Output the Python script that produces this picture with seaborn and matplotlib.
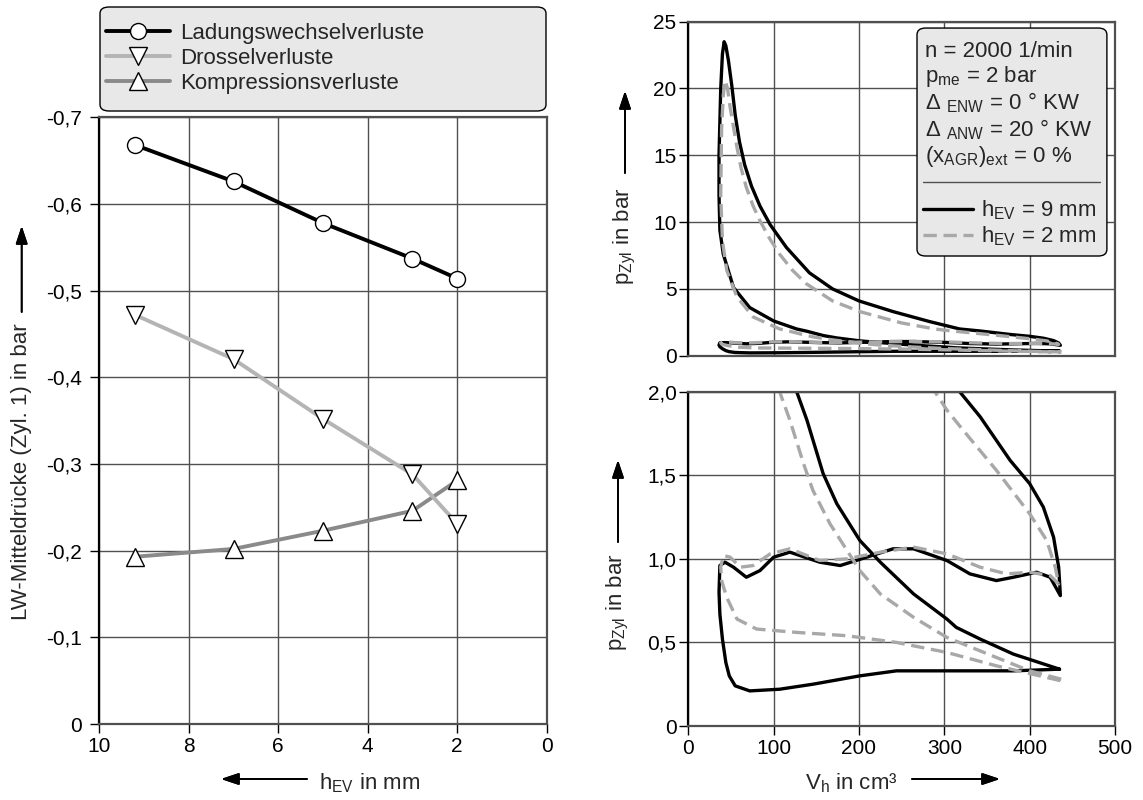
import seaborn as sns
import matplotlib.pyplot as plt
from matplotlib.patches import FancyBboxPatch
from matplotlib.lines import Line2D
from matplotlib.ticker import FuncFormatter, MultipleLocator

# Left chart: LW-Mitteldruecke over valve lift
HEV = [9.2, 7, 5, 3, 2]
LADUNG = [-0.668, -0.626, -0.578, -0.537, -0.514]
DROSSEL = [-0.472, -0.421, -0.352, -0.288, -0.231]
KOMPR = [-0.193, -0.202, -0.223, -0.246, -0.281]

# Right chart: p-V loops (compression, expansion, exhaust, intake)
V_9 = [435, 381, 342, 314, 303, 264, 225, 201, 174, 158, 139, 127, 100, 72, 53, 41, 37, 36, 36, 38, 40, 42,
       44, 47, 51, 55, 60, 66, 74, 84, 96, 115, 142, 169, 200, 240, 283, 318, 342, 377, 400, 416, 428, 434, 436,
       424, 408, 381, 361, 330, 303, 264, 240, 209, 178, 154, 119, 100, 84, 68, 53, 43, 37,
       36, 37, 40, 44, 48, 55, 72, 107, 146, 201, 244, 303, 381, 435]
P_9 = [0.34, 0.43, 0.52, 0.59, 0.64, 0.79, 0.98, 1.11, 1.33, 1.51, 1.83, 2.0, 2.6, 3.6, 5.1, 7.6, 9.4, 12.0, 15.0, 20.0, 22.6, 23.5,
       23.2, 22.1, 20.2, 18.0, 16.0, 14.3, 12.7, 11.2, 9.8, 8.1, 6.2, 5.0, 4.1, 3.3, 2.55, 2.0, 1.85, 1.59, 1.45, 1.31, 1.13, 0.95, 0.78,
       0.89, 0.92, 0.89, 0.87, 0.91, 0.99, 1.06, 1.06, 1.01, 0.96, 0.98, 1.04, 1.01, 0.93, 0.89, 0.95, 0.98, 0.96,
       0.80, 0.67, 0.52, 0.38, 0.30, 0.24, 0.21, 0.22, 0.25, 0.30, 0.33, 0.33, 0.33, 0.34]

V_2 = [437, 400, 361, 303, 264, 225, 201, 186, 166, 146, 135, 119, 107, 76, 57, 45, 40, 38, 39, 41, 43,
       46, 49, 53, 57, 62, 68, 76, 84, 95, 107, 122, 138, 169, 201, 250, 289, 303, 322, 361, 400, 420, 430, 434,
       424, 400, 373, 342, 303, 264, 225, 186, 154, 119, 96, 76, 61, 49, 41,
       38, 39, 45, 57, 80, 127, 186, 244, 303, 361, 437]
P_2 = [0.28, 0.33, 0.41, 0.53, 0.65, 0.79, 0.93, 1.05, 1.21, 1.41, 1.57, 1.83, 2.0, 2.9, 4.4, 6.4, 8.6, 12.0, 17.0, 19.5, 20.6,
       20.0, 18.6, 17.1, 15.6, 14.0, 12.6, 11.2, 10.1, 8.8, 7.6, 6.4, 5.4, 4.1, 3.3, 2.45, 2.0, 1.89, 1.77, 1.53, 1.27, 1.11, 0.95, 0.85,
       0.90, 0.92, 0.91, 0.95, 1.03, 1.07, 1.04, 1.00, 0.99, 1.06, 1.03, 0.96, 0.95, 1.01, 1.02,
       0.95, 0.87, 0.77, 0.64, 0.58, 0.56, 0.54, 0.50, 0.44, 0.36, 0.27]

INFO = ["n = 2000 1/min",
        r"p$_{\mathrm{me}}$ = 2 bar",
        r"Δ $_{\mathrm{ENW}}$ = 0 ° KW",
        r"Δ $_{\mathrm{ANW}}$ = 20 ° KW",
        r"(x$_{\mathrm{AGR}}$)$_{\mathrm{ext}}$ = 0 %"]

sns.set_theme(style="whitegrid")
plt.rcParams["font.family"] = ["Liberation Sans", "DejaVu Sans"]
plt.rcParams["mathtext.fontset"] = "custom"
plt.rcParams["mathtext.rm"] = "Liberation Sans"
plt.rcParams["mathtext.it"] = "Liberation Sans:italic"
plt.rcParams["mathtext.bf"] = "Liberation Sans:bold"

GRID = "#505050"
W, H = 1143, 800


def comma(v, pos):
    if abs(v) < 1e-9:
        return "0"
    return ("%.1f" % v).replace(".", ",")


def style(ax, pad):
    ax.set_facecolor("white")
    ax.grid(True, color=GRID, lw=1.0)
    ax.set_axisbelow(True)
    for s in ax.spines.values():
        s.set_color(GRID)
        s.set_linewidth(1.6)
    ax.spines["left"].set_color("black")
    ax.tick_params(axis="both", which="both", direction="out", length=6.5, width=1,
                   color="black", labelsize=15, labelcolor="black", pad=pad,
                   left=True, bottom=True)
    ax.set_xlabel("")
    ax.set_ylabel("")


fig = plt.figure(figsize=(W / 100, H / 100), dpi=100)
ax1 = fig.add_axes([99.3 / W, 76 / H, 447.4 / W, 606.7 / H])
ax2 = fig.add_axes([688.3 / W, 444.3 / H, 426.7 / W, 334 / H])
ax3 = fig.add_axes([688.3 / W, 74 / H, 426.7 / W, 334.3 / H])

# ---- left chart
mk = dict(markerfacecolor="white", markeredgecolor="black", markeredgewidth=1.0, lw=2.8)
sns.lineplot(x=HEV, y=KOMPR, ax=ax1, color="#8a8a8a", marker="^", markersize=12.5,
             label="Kompressionsverluste", zorder=3, **mk)
sns.lineplot(x=HEV, y=DROSSEL, ax=ax1, color="#b4b4b4", marker="v", markersize=12.5,
             label="Drosselverluste", zorder=4, **mk)
sns.lineplot(x=HEV, y=LADUNG, ax=ax1, color="black", marker="o", markersize=11.5,
             label="Ladungswechselverluste", zorder=5, **mk)
ax1.set_xlim(10, 0)
ax1.set_ylim(0, -0.7)
ax1.xaxis.set_major_locator(MultipleLocator(2))
ax1.yaxis.set_major_locator(MultipleLocator(0.1))
ax1.yaxis.set_major_formatter(FuncFormatter(comma))
style(ax1, 6)
ax1.tick_params(axis="x", pad=3)

h, l = ax1.get_legend_handles_labels()
ax1.get_legend().remove()
box = FancyBboxPatch((100 / W, 1 - 111 / H), 446 / W, 104 / H,
                     boxstyle="round,pad=0,rounding_size=0.008", transform=fig.transFigure,
                     fc="#e8e8e8", ec="black", lw=1.0, zorder=1)
fig.patches.append(box)
leg = fig.legend(h[::-1], l[::-1], loc="upper left", bbox_to_anchor=(106 / W, 1 - 23 / H),
                 frameon=False, fontsize=16, borderpad=0, borderaxespad=0, labelspacing=0.17,
                 handlelength=2.9, handletextpad=0.45)

# ---- right top chart
sns.lineplot(x=V_9, y=P_9, ax=ax2, sort=False, estimator=None, color="black", lw=2.4,
             label=r"h$_{\mathrm{EV}}$ = 9 mm")
sns.lineplot(x=V_2, y=P_2, ax=ax2, sort=False, estimator=None, color="#a8a8a8", lw=2.4,
             linestyle=(0, (4, 2)), label=r"h$_{\mathrm{EV}}$ = 2 mm")
ax2.set_xlim(0, 500)
ax2.set_ylim(0, 25)
ax2.xaxis.set_major_locator(MultipleLocator(100))
ax2.yaxis.set_major_locator(MultipleLocator(5))
style(ax2, 2)
ax2.tick_params(axis="x", bottom=False, labelbottom=False)

h2, l2 = ax2.get_legend_handles_labels()
ax2.get_legend().remove()
info = FancyBboxPatch((0.536, 0.2985), 0.445, 0.6825,
                      boxstyle="round,pad=0,rounding_size=0.02", transform=ax2.transAxes,
                      fc="#e8e8e8", ec="black", lw=1.0, zorder=5)
ax2.add_patch(info)
for txt, yb in zip(INFO, [0.895, 0.818, 0.736, 0.658, 0.579]):
    ax2.text(0.555, yb, txt, transform=ax2.transAxes, fontsize=16, va="baseline",
             ha="left", zorder=6)
ax2.add_line(Line2D([0.551, 0.965], [0.521, 0.521], transform=ax2.transAxes,
                    color=GRID, lw=1.0, zorder=6))
leg2 = ax2.legend(h2, l2, loc="upper left", bbox_to_anchor=(0.551, 0.471),
                  frameon=False, fontsize=16, borderpad=0, borderaxespad=0, labelspacing=0.12,
                  handlelength=2.25, handletextpad=0.32)
leg2.set_zorder(7)

# ---- right bottom chart
sns.lineplot(x=V_9, y=P_9, ax=ax3, sort=False, estimator=None, color="black", lw=2.4)
sns.lineplot(x=V_2, y=P_2, ax=ax3, sort=False, estimator=None, color="#a8a8a8", lw=2.4,
             linestyle=(0, (4, 2)))
ax3.set_xlim(0, 500)
ax3.set_ylim(0, 2)
ax3.xaxis.set_major_locator(MultipleLocator(100))
ax3.yaxis.set_major_locator(MultipleLocator(0.5))
ax3.yaxis.set_major_formatter(FuncFormatter(comma))
style(ax3, 2)
ax3.tick_params(axis="x", pad=3)

# ---- axis labels with arrows
arrow = dict(arrowstyle="-|>,head_length=0.9,head_width=0.3", color="black", lw=1.3,
             shrinkA=0, shrinkB=0)
fig.text(21.7 / W, 1 - 472 / H, "LW-Mitteldrücke (Zyl. 1) in bar", rotation=90,
         fontsize=16, ha="center", va="center")
fig.add_artist(plt.annotate("", xy=(21.7 / W, 1 - 226 / H), xytext=(21.7 / W, 1 - 312 / H),
                            xycoords="figure fraction", arrowprops=arrow))
fig.text(370 / W, 1 - 783 / H, r"h$_{\mathrm{EV}}$ in mm", fontsize=16, ha="center", va="center")
fig.add_artist(plt.annotate("", xy=(221 / W, 1 - 779 / H), xytext=(307 / W, 1 - 779 / H),
                            xycoords="figure fraction", arrowprops=arrow))
fig.text(851 / W, 1 - 783 / H, r"V$_{\mathrm{h}}$ in cm³", fontsize=16, ha="center", va="center")
fig.add_artist(plt.annotate("", xy=(1000 / W, 1 - 779 / H), xytext=(912 / W, 1 - 779 / H),
                            xycoords="figure fraction", arrowprops=arrow))
for xc, yc, ya, yb in [(625, 236, 91, 173), (618, 602, 460, 542)]:
    fig.text(xc / W, 1 - yc / H, r"p$_{\mathrm{Zyl}}$ in bar", rotation=90, fontsize=16,
             ha="center", va="center")
    fig.add_artist(plt.annotate("", xy=(xc / W, 1 - ya / H), xytext=(xc / W, 1 - yb / H),
                                xycoords="figure fraction", arrowprops=arrow))

fig.savefig("out.png", dpi=100)
